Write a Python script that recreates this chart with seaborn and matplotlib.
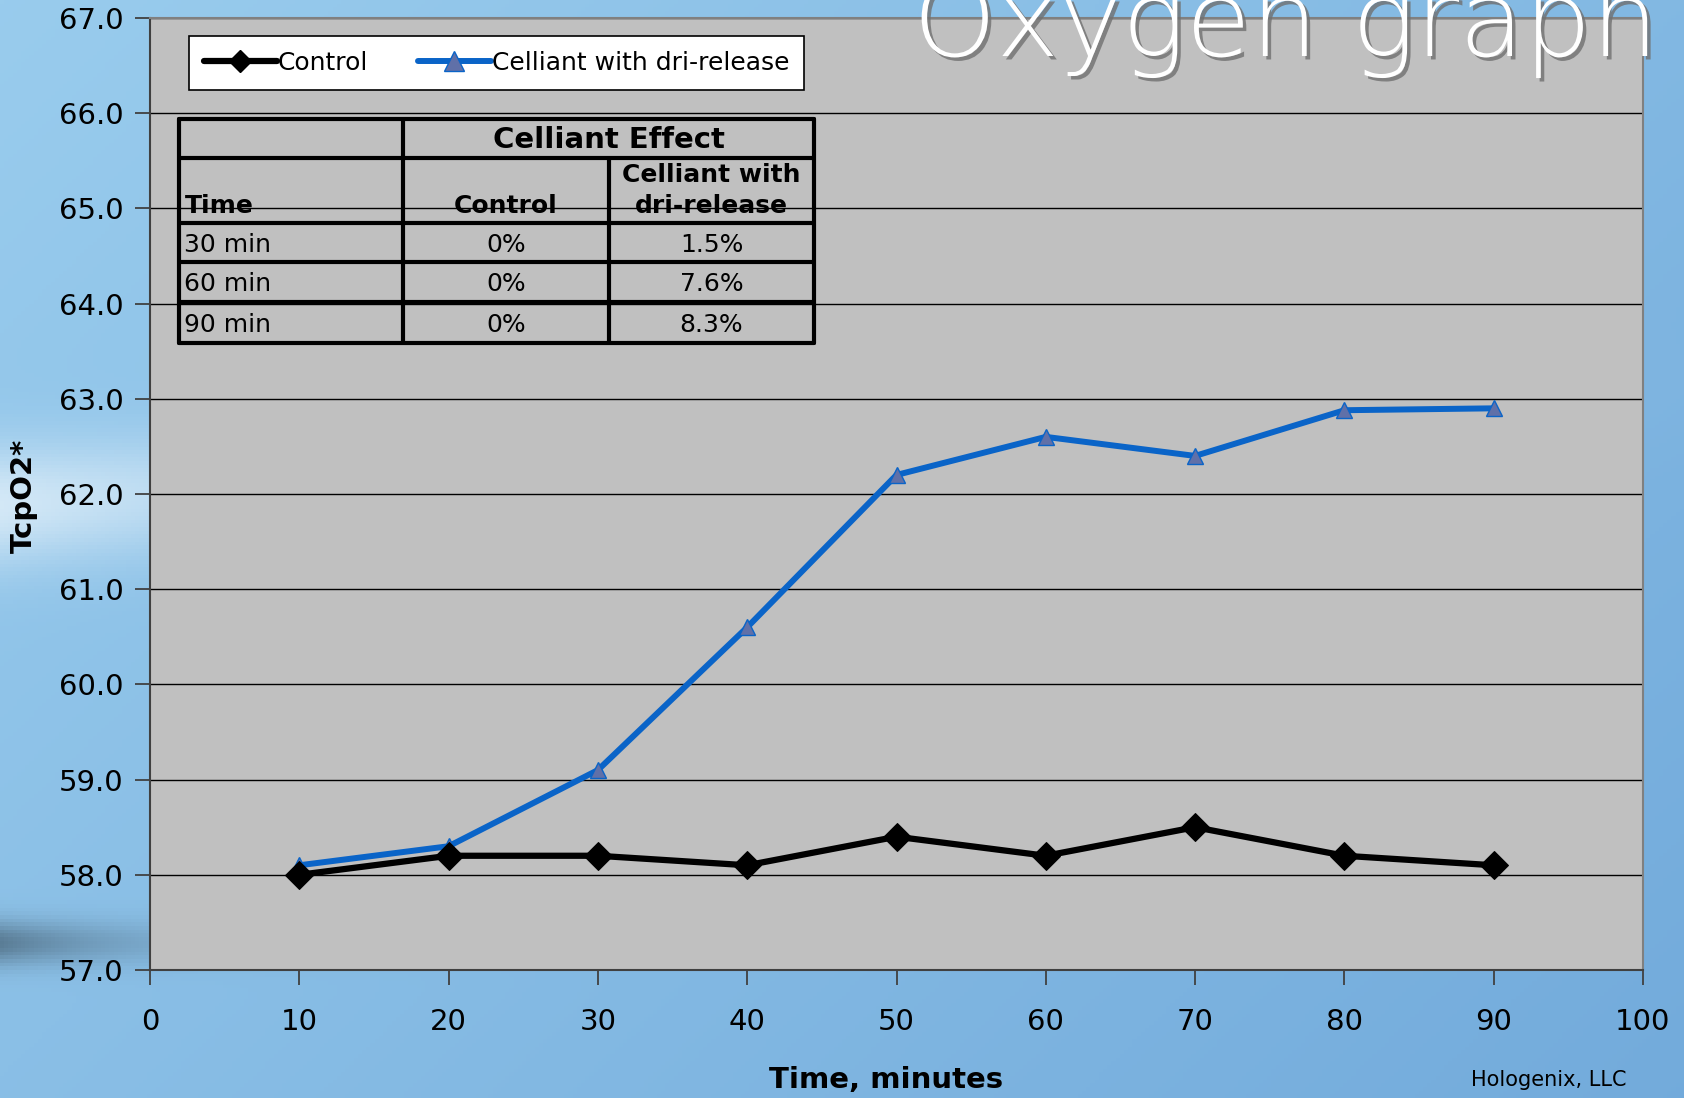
import numpy as np
import pandas as pd
import matplotlib
matplotlib.use("Agg")
import matplotlib.pyplot as plt
import matplotlib.patheffects as pe
from matplotlib.lines import Line2D
import seaborn as sns

# ---------------- data ----------------
time_min = [10, 20, 30, 40, 50, 60, 70, 80, 90]
control = [58.0, 58.2, 58.2, 58.1, 58.4, 58.2, 58.5, 58.2, 58.1]
celliant = [58.1, 58.3, 59.1, 60.6, 62.2, 62.6, 62.4, 62.88, 62.9]
series_names = ["Control", "Celliant with dri-release"]

table_times = ["30 min", "60 min", "90 min"]
table_control = ["0%", "0%", "0%"]
table_celliant = ["1.5%", "7.6%", "8.3%"]

x_ticks = list(range(0, 101, 10))
y_ticks = [57.0, 58.0, 59.0, 60.0, 61.0, 62.0, 63.0, 64.0, 65.0, 66.0, 67.0]

sns.set_theme(style="white")
plt.rcParams["font.family"] = ["DejaVu Sans"]
plt.rcParams["text.color"] = "black"

W, H = 1684, 1098
fig = plt.figure(figsize=(W / 100, H / 100), dpi=100)

# ---------------- slide background ----------------
bg = fig.add_axes([0, 0, 1, 1], zorder=-10)
yy, xx = np.mgrid[0:1:300j, 0:1:400j]
c1 = np.array([0.60, 0.80, 0.93])
c2 = np.array([0.45, 0.67, 0.86])
t = (0.6 * xx + 0.4 * yy)[..., None]
img = c1 * (1 - t) + c2 * t
swoosh = np.exp(-((yy - (0.46 - 0.10 * xx)) ** 2) / 0.003) * np.exp(-xx * 4)
img = img + swoosh[..., None] * (np.array([1.0, 1.0, 1.0]) - img) * 0.6
dark = np.exp(-((yy - 0.86) ** 2) / 0.0004) * np.exp(-xx * 12)
img = img * (1 - 0.35 * dark[..., None])
img = np.clip(img, 0, 1)
bg.imshow(img, aspect="auto", extent=[0, 1, 0, 1], origin="upper")
bg.set_axis_off()

# ---------------- main axes ----------------
ax = fig.add_axes([150 / W, 1 - 970 / H, (1643 - 150) / W, (970 - 18) / H])
ax.set_facecolor("#C0C0C0")

df = pd.DataFrame({
    "Time": time_min * 2,
    "TcpO2": control + celliant,
    "Series": [series_names[0]] * len(time_min) + [series_names[1]] * len(time_min),
})

sns.lineplot(data=df[df.Series == series_names[1]], x="Time", y="TcpO2", ax=ax,
             color="#0A64C8", lw=4.3, marker="^", markersize=12,
             markerfacecolor="#6070A8", markeredgecolor="#0A64C8", markeredgewidth=1.0,
             legend=False, zorder=3)
sns.lineplot(data=df[df.Series == series_names[0]], x="Time", y="TcpO2", ax=ax,
             color="black", lw=4.5, marker="D", markersize=14,
             markerfacecolor="black", markeredgecolor="black",
             legend=False, zorder=4)

ax.set_xlim(0, 100)
ax.set_ylim(57, 67)
ax.set_xticks(x_ticks)
ax.set_xticklabels([str(v) for v in x_ticks])
ax.set_yticks(y_ticks)
ax.set_yticklabels([f"{v:.1f}" for v in y_ticks])
ax.yaxis.grid(True, color="black", lw=1.0)
ax.xaxis.grid(False)
ax.set_axisbelow(True)
ax.tick_params(axis="both", direction="out", length=11, width=1.3, color="#404040",
               labelsize=21, labelcolor="black", pad=8, bottom=True, left=True)
ax.tick_params(axis="x", pad=16)
for s in ["left", "bottom"]:
    ax.spines[s].set_color("#404040")
    ax.spines[s].set_linewidth(1.5)
for s in ["top", "right"]:
    ax.spines[s].set_color("#808080")
    ax.spines[s].set_linewidth(1.5)
ax.set_xlabel("")
ax.set_ylabel("")

fig.text(24 / W, 1 - 496 / H, "TcpO2*", rotation=90, fontsize=21, fontweight="bold",
         ha="center", va="center")
fig.text(886 / W, 1 - 1080 / H, "Time, minutes", fontsize=21, fontweight="bold",
         ha="center", va="center")
fig.text(1549 / W, 1 - 1080 / H, "Hologenix, LLC", fontsize=15,
         ha="center", va="center")

# ---------------- legend ----------------
handles = [
    Line2D([], [], color="black", lw=4.5, marker="D", markersize=11,
           markerfacecolor="black"),
    Line2D([], [], color="#0A64C8", lw=4.3, marker="^", markersize=14,
           markerfacecolor="#6070A8", markeredgecolor="#0A64C8"),
]
leg = ax.legend(handles, series_names, loc="upper left", ncol=2,
                bbox_to_anchor=((189 - 150) / (1643 - 150), 1 - (36 - 18) / (970 - 18)),
                frameon=True, fancybox=False, fontsize=18, handlelength=2.9,
                handletextpad=0.05, columnspacing=2.0, borderpad=0.6,
                borderaxespad=0)
leg.get_frame().set_edgecolor("black")
leg.get_frame().set_linewidth(1.2)
leg.get_frame().set_facecolor("white")
leg.get_frame().set_alpha(1)

# ---------------- table (drawn in figure pixels) ----------------
def fx(px):
    return px / W

def fy(py):
    return 1 - py / H

cols = [179, 403, 609, 814]
rows = [119, 158, 223, 262, 302, 343]
lw_t = 3.0
for yv in rows:
    fig.add_artist(Line2D([fx(cols[0]), fx(cols[-1])], [fy(yv), fy(yv)],
                          color="black", lw=lw_t))
fig.add_artist(Line2D([fx(cols[0]), fx(cols[0])], [fy(rows[0]), fy(rows[-1])], color="black", lw=lw_t))
fig.add_artist(Line2D([fx(cols[1]), fx(cols[1])], [fy(rows[0]), fy(rows[-1])], color="black", lw=lw_t))
fig.add_artist(Line2D([fx(cols[2]), fx(cols[2])], [fy(rows[1]), fy(rows[-1])], color="black", lw=lw_t))
fig.add_artist(Line2D([fx(cols[3]), fx(cols[3])], [fy(rows[0]), fy(rows[-1])], color="black", lw=lw_t))

fig.text(fx((cols[1] + cols[3]) / 2), fy((rows[0] + rows[1]) / 2 + 2), "Celliant Effect",
         fontsize=21, fontweight="bold", ha="center", va="center")
fig.text(fx(cols[0] + 6), fy(rows[2] - 5), "Time", fontsize=18, fontweight="bold",
         ha="left", va="bottom")
fig.text(fx((cols[1] + cols[2]) / 2), fy(rows[2] - 5), "Control", fontsize=18,
         fontweight="bold", ha="center", va="bottom")
fig.text(fx((cols[2] + cols[3]) / 2), fy((rows[1] + rows[2]) / 2), "Celliant with\ndri-release",
         fontsize=18, fontweight="bold", ha="center", va="center", linespacing=1.35)
for i in range(3):
    yc = fy((rows[2 + i] + rows[3 + i]) / 2 + 2)
    fig.text(fx(cols[0] + 5), yc, table_times[i], fontsize=18, ha="left", va="center")
    fig.text(fx((cols[1] + cols[2]) / 2), yc, table_control[i], fontsize=18, ha="center", va="center")
    fig.text(fx((cols[2] + cols[3]) / 2), yc, table_celliant[i], fontsize=18, ha="center", va="center")

# ---------------- slide title ----------------
title = fig.text(fx(913), fy(56), "Oxygen graph", fontsize=80, color="white",
                 fontweight="light", ha="left", va="baseline",
                 path_effects=[pe.SimplePatchShadow(offset=(2.5, -2.5), shadow_rgbFace="#707070", alpha=0.8),
                               pe.Normal()])
fig.canvas.draw()
bb = title.get_window_extent()
title.set_fontsize(80 * 746 / bb.width)

fig.savefig("out.png", dpi=100)
